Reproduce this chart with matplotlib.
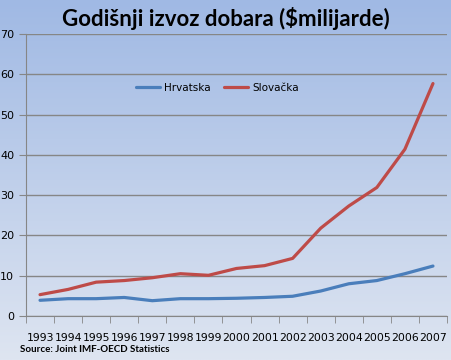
import numpy as np
import matplotlib
matplotlib.use('Agg')
import matplotlib.pyplot as plt

years = ['1993', '1994', '1995', '1996', '1997', '1998', '1999', '2000',
         '2001', '2002', '2003', '2004', '2005', '2006', '2007']
hrvatska = [3.9, 4.3, 4.3, 4.6, 3.8, 4.3, 4.3, 4.4, 4.6, 4.9, 6.2, 8.0, 8.8, 10.5, 12.4]
slovacka = [5.3, 6.6, 8.4, 8.8, 9.5, 10.5, 10.1, 11.8, 12.5, 14.3, 21.8, 27.3, 31.9, 41.4, 57.7]

fig = plt.figure(figsize=(4.51, 3.60), dpi=100)

# background gradient
bg = fig.add_axes([0, 0, 1, 1], zorder=-10)
top = np.array([160, 185, 228]) / 255
bot = np.array([222, 229, 241]) / 255
t = np.linspace(0, 1, 256)[:, None]
grad = top * (1 - t) + bot * t
bg.imshow(grad[:, None, :].repeat(2, axis=1), aspect='auto', extent=[0, 1, 0, 1])
bg.axis('off')

ax = fig.add_axes([26 / 451, 44 / 360, 421 / 451, 282 / 360])
ax.patch.set_alpha(0)
x = np.arange(len(years))
ax.plot(x, hrvatska, color='#4a7ebb', lw=2.3, label='Hrvatska', solid_capstyle='round')
ax.plot(x, slovacka, color='#be4b48', lw=2.3, label='Slovačka', solid_capstyle='round')

ax.set_xlim(-0.5, len(years) - 0.5)
ax.set_ylim(0, 70)
ax.set_yticks(range(0, 71, 10))
ax.set_xticks(x)
ax.set_xticklabels(years, fontsize=7.8)
ax.set_xticks(np.arange(-0.5, len(years), 1), minor=True)
ax.tick_params(axis='x', which='major', length=0, pad=12)
ax.tick_params(axis='x', which='minor', length=5, color='#868686', direction='out')
ax.tick_params(axis='y', length=5, color='#868686', labelsize=8, pad=3.5)
ax.yaxis.grid(True, color='#868686', lw=1)
ax.set_axisbelow(True)
for s in ['top', 'right']:
    ax.spines[s].set_visible(False)
for s in ['left', 'bottom']:
    ax.spines[s].set_color('#868686')

leg = ax.legend(loc='center', bbox_to_anchor=(0.454, 0.808), ncol=2, frameon=False,
                fontsize=7.5, handlelength=2.3, handletextpad=0.4, columnspacing=1.3)

fig.text(0.5, 0.95, 'Godišnji izvoz dobara ($milijarde)', ha='center', va='center',
         fontsize=16, fontweight='bold', family='Lato')
fig.text(20 / 451, 1 - 350 / 360, 'Source: Joint IMF-OECD Statistics', ha='left', va='center',
         fontsize=7, fontweight='bold', family='Lato')

fig.savefig('out.png', dpi=100)
